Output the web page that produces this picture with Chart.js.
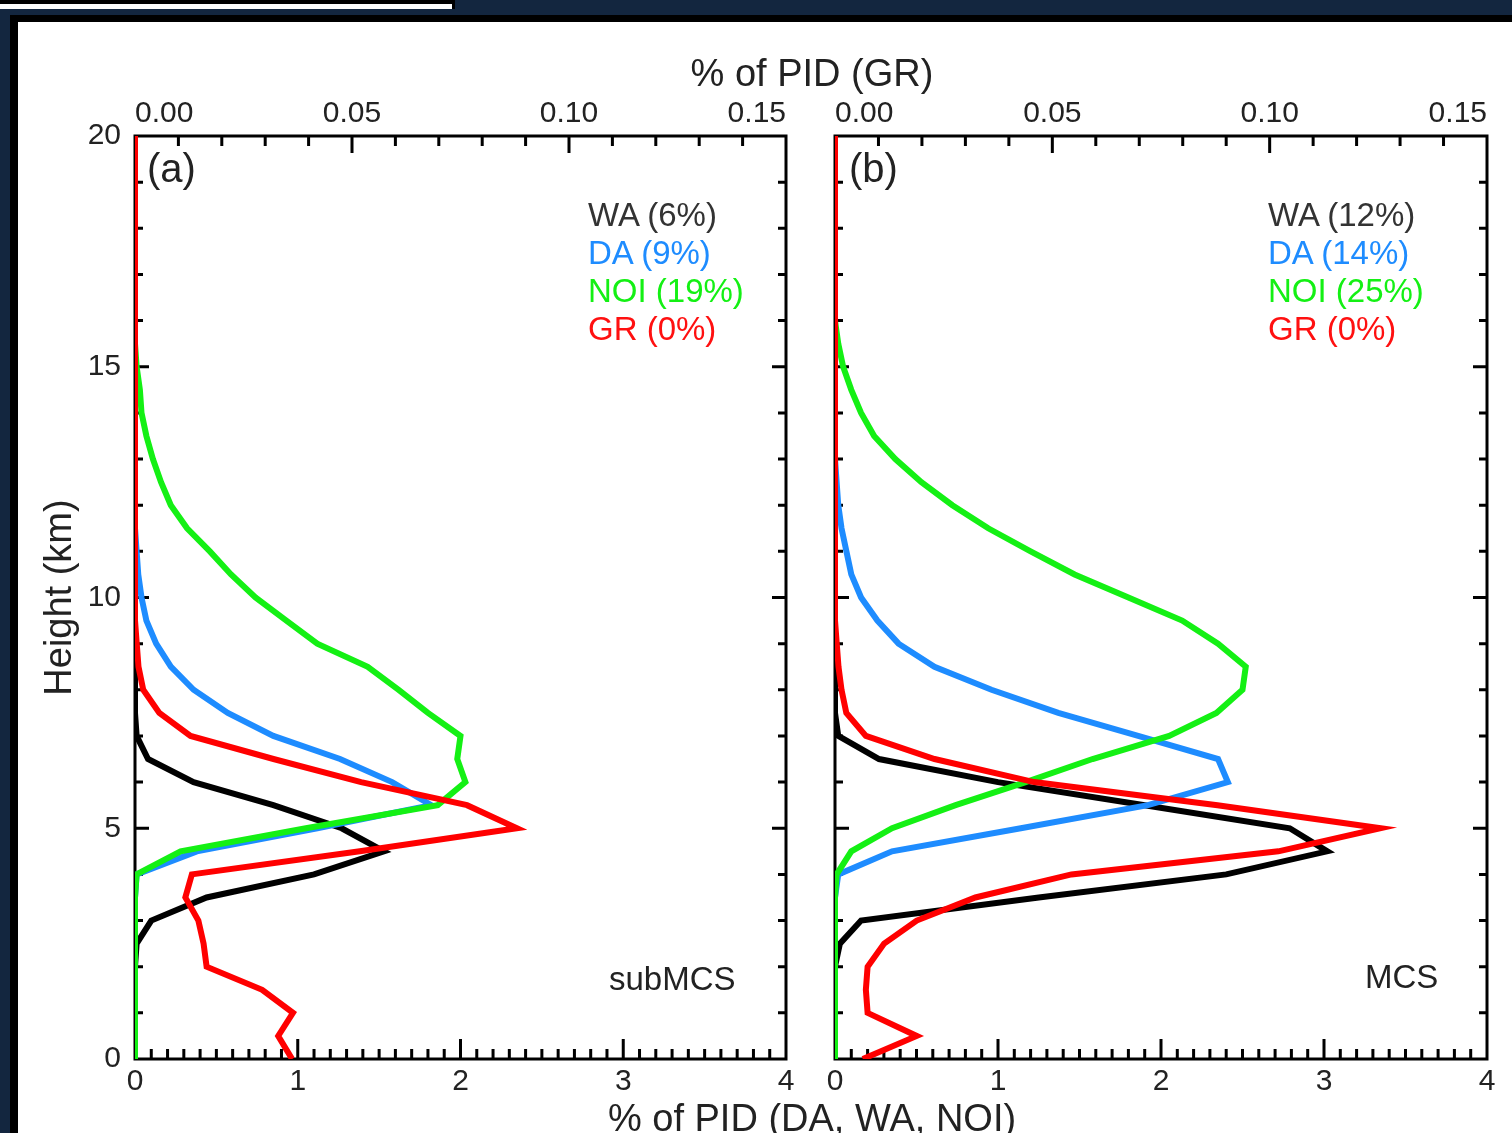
<!DOCTYPE html>
<html>
<head>
<meta charset="utf-8">
<script src="https://cdn.jsdelivr.net/npm/chart.js@4.4.1/dist/chart.umd.min.js"></script>
<style>
  html, body { margin: 0; padding: 0; }
  body {
    width: 1512px; height: 1133px; overflow: hidden; position: relative;
    background: #13263f;
    font-family: "Liberation Sans", Arial, sans-serif; color: #222;
  }
  #strip { position: absolute; left: 0; top: 0; width: 452px; height: 5px; background: #fff; border-top: 4px solid #000; border-right: 3px solid #000; }
  #sheet { position: absolute; left: 10px; top: 15px; right: 0; bottom: 0; background: #fff; border-left: 8px solid #000; border-top: 7px solid #000; }
  canvas { position: absolute; left: 0; top: 0; }
  .lbl { position: absolute; white-space: nowrap; }
  .title { font-size: 38px; line-height: 38px; width: 700px; left: 462px; text-align: center; }
  .leg { font-size: 33px; line-height: 33px; }
  .panel { font-size: 40px; line-height: 40px; }
</style>
</head>
<body>
<div id="strip"></div>
<div id="sheet"></div>
<canvas id="chartA" width="1512" height="1133"></canvas>
<canvas id="chartB" width="1512" height="1133"></canvas>

<div class="lbl title" style="top:54px">% of PID (GR)</div>
<div class="lbl title" style="top:1099px">% of PID (DA, WA, NOI)</div>

<div class="lbl panel" style="left:147px; top:148px">(a)</div>
<div class="lbl panel" style="left:849px; top:148px">(b)</div>

<div class="lbl leg" style="left:588px; top:198px; color:#333">WA (6%)</div>
<div class="lbl leg" style="left:588px; top:236px; color:#1e8cff">DA (9%)</div>
<div class="lbl leg" style="left:588px; top:274px; color:#14f014">NOI (19%)</div>
<div class="lbl leg" style="left:588px; top:312px; color:#ff1010">GR (0%)</div>

<div class="lbl leg" style="left:1268px; top:198px; color:#333">WA (12%)</div>
<div class="lbl leg" style="left:1268px; top:236px; color:#1e8cff">DA (14%)</div>
<div class="lbl leg" style="left:1268px; top:274px; color:#14f014">NOI (25%)</div>
<div class="lbl leg" style="left:1268px; top:312px; color:#ff1010">GR (0%)</div>

<div class="lbl leg" style="left:609px; top:962px">subMCS</div>
<div class="lbl leg" style="left:1365px; top:960px">MCS</div>

<script>
// ==========================
// DATA (height in km, values in % of PID)
// ==========================
const heights = [0, 0.5, 1, 1.5, 2, 2.5, 3, 3.5, 4, 4.5, 5, 5.5, 6, 6.5, 7, 7.5, 8, 8.5, 9, 9.5,
  10, 10.5, 11, 11.5, 12, 12.5, 13, 13.5, 14, 14.5, 15, 15.5, 16, 16.5, 17, 17.5, 18, 18.5, 19, 19.5, 20];

// (a) subMCS
const waA = [0, 0, 0, 0, 0, 0.01, 0.10, 0.44, 1.10, 1.53, 1.27, 0.85, 0.36, 0.08, 0.01, 0, 0, 0, 0, 0,
  0, 0, 0, 0, 0, 0, 0, 0, 0, 0, 0, 0, 0, 0, 0, 0, 0, 0, 0, 0, 0];
const daA = [0, 0, 0, 0, 0, 0, 0, 0, 0.01, 0.38, 1.12, 1.82, 1.58, 1.26, 0.85, 0.57, 0.36, 0.22, 0.13, 0.07,
  0.04, 0.02, 0.01, 0, 0, 0, 0, 0, 0, 0, 0, 0, 0, 0, 0, 0, 0, 0, 0, 0, 0];
const noiA = [0, 0, 0, 0, 0, 0, 0, 0, 0.01, 0.28, 1.05, 1.86, 2.03, 1.98, 2.00, 1.80, 1.62, 1.43, 1.12, 0.93,
  0.74, 0.59, 0.46, 0.32, 0.22, 0.16, 0.11, 0.07, 0.04, 0.03, 0.01, 0, 0, 0, 0, 0, 0, 0, 0, 0, 0];
const grA = [0.0362, 0.0330, 0.0364, 0.0293, 0.0165, 0.0158, 0.0146, 0.0116, 0.0131, 0.0518, 0.0880, 0.0765,
  0.0521, 0.0319, 0.0128, 0.0056, 0.0019, 0.0008, 0.0004, 0,
  0, 0, 0, 0, 0, 0, 0, 0, 0, 0, 0, 0, 0, 0, 0, 0, 0, 0, 0, 0, 0];

// (b) MCS
const waB = [0, 0, 0, 0, 0, 0.03, 0.16, 1.25, 2.40, 3.02, 2.79, 1.90, 1.00, 0.27, 0.02, 0, 0, 0, 0, 0,
  0, 0, 0, 0, 0, 0, 0, 0, 0, 0, 0, 0, 0, 0, 0, 0, 0, 0, 0, 0, 0];
const daB = [0, 0, 0, 0, 0, 0, 0, 0, 0.02, 0.35, 1.14, 1.92, 2.41, 2.35, 1.86, 1.37, 0.96, 0.61, 0.39, 0.26,
  0.16, 0.10, 0.07, 0.04, 0.02, 0.01, 0, 0, 0, 0, 0, 0, 0, 0, 0, 0, 0, 0, 0, 0, 0];
const noiB = [0, 0, 0, 0, 0, 0, 0, 0, 0.01, 0.10, 0.35, 0.74, 1.17, 1.58, 2.05, 2.34, 2.50, 2.52, 2.35, 2.13,
  1.80, 1.47, 1.20, 0.94, 0.72, 0.53, 0.37, 0.24, 0.16, 0.10, 0.05, 0.02, 0, 0, 0, 0, 0, 0, 0, 0, 0];
const grB = [0.0064, 0.0188, 0.0075, 0.0071, 0.0075, 0.0113, 0.0188, 0.0323, 0.0544, 0.1020, 0.1255, 0.0880,
  0.0458, 0.0229, 0.0071, 0.0026, 0.0015, 0.0008, 0.0004, 0,
  0, 0, 0, 0, 0, 0, 0, 0, 0, 0, 0, 0, 0, 0, 0, 0, 0, 0, 0, 0, 0];

const xTicks = [0, 1, 2, 3, 4];            // % of PID (DA, WA, NOI)
const grTicks = [0, 0.05, 0.10, 0.15];     // % of PID (GR)
const yTicks = [0, 5, 10, 15, 20];         // Height (km)

// ==========================
// STYLE
// ==========================
const COLORS = { wa: "#000000", da: "#1e8cff", noi: "#14f014", gr: "#ff0000" };
const TEXT = "#222";
const LINE_W = 6;
Chart.defaults.font.family = '"Liberation Sans", Arial, sans-serif';

function series(label, vals, color, axis) {
  return {
    label,
    data: vals.map((v, i) => ({ x: v, y: heights[i] })),
    borderColor: color,
    backgroundColor: color,
    borderWidth: LINE_W,
    pointRadius: 0,
    tension: 0,
    fill: false,
    xAxisID: axis,
    yAxisID: "y"
  };
}

// frame + inward ticks on all four sides
const frameTicks = {
  id: "frameTicks",
  beforeDatasetsDraw(chart) {
    const { ctx, chartArea: a, scales } = chart;
    ctx.save();
    ctx.strokeStyle = "#000";
    ctx.lineWidth = 3;
    ctx.strokeRect(a.left, a.top, a.right - a.left, a.bottom - a.top);
    ctx.beginPath();
    // top (GR) 0.01 steps
    for (let i = 1; i < 15; i++) {
      const x = scales.x2.getPixelForValue(i / 100);
      const len = i % 5 === 0 ? 17 : 10;
      ctx.moveTo(x, a.top);
      ctx.lineTo(x, a.top + len);
    }
    // bottom 0.1 steps
    for (let i = 1; i < 40; i++) {
      const x = scales.x.getPixelForValue(i / 10);
      const len = i % 10 === 0 ? 20 : 10;
      ctx.moveTo(x, a.bottom);
      ctx.lineTo(x, a.bottom - len);
    }
    // left + right, 1 km steps
    for (let i = 1; i < 20; i++) {
      const y = scales.y.getPixelForValue(i);
      const len = i % 5 === 0 ? 14 : 8;
      ctx.moveTo(a.left, y);
      ctx.lineTo(a.left + len, y);
      ctx.moveTo(a.right, y);
      ctx.lineTo(a.right - len, y);
    }
    ctx.stroke();
    ctx.restore();
  }
};

function makeChart(id, wa, da, noi, gr, yWidth, padRight, showY) {
  return new Chart(document.getElementById(id), {
    type: "line",
    data: {
      datasets: [
        series("GR", gr, COLORS.gr, "x2"),
        series("NOI", noi, COLORS.noi, "x"),
        series("DA", da, COLORS.da, "x"),
        series("WA", wa, COLORS.wa, "x")
      ]
    },
    options: {
      responsive: false,
      animation: false,
      devicePixelRatio: 1,
      layout: { padding: { left: 0, right: padRight, top: 0, bottom: 0 } },
      plugins: { legend: { display: false }, tooltip: { enabled: false } },
      scales: {
        x: {
          type: "linear", position: "bottom", min: 0, max: 4,
          afterBuildTicks: s => { s.ticks = xTicks.map(v => ({ value: v })); },
          ticks: { font: { size: 30 }, color: TEXT, padding: 5, maxRotation: 0 },
          grid: { display: false, drawTicks: false },
          border: { display: false },
          afterFit: s => { s.height = 74; s.paddingLeft = 0; s.paddingRight = 0; }
        },
        x2: {
          type: "linear", position: "top", min: 0, max: 0.15,
          afterBuildTicks: s => { s.ticks = grTicks.map(v => ({ value: v })); },
          ticks: { font: { size: 30 }, color: TEXT, padding: 4, maxRotation: 0, align: "inner",
                   callback: v => v.toFixed(2) },
          grid: { display: false, drawTicks: false },
          border: { display: false },
          afterFit: s => { s.height = 136; s.paddingLeft = 0; s.paddingRight = 0; }
        },
        y: {
          type: "linear", position: "left", min: 0, max: 20,
          afterBuildTicks: s => { s.ticks = yTicks.map(v => ({ value: v })); },
          ticks: { display: showY, font: { size: 30 }, color: TEXT, padding: 14 },
          title: { display: showY, text: "Height (km)", color: TEXT, font: { size: 38 }, padding: { top: 38, bottom: 0 } },
          grid: { display: false, drawTicks: false },
          border: { display: false },
          afterFit: s => { s.width = yWidth; s.paddingTop = 0; s.paddingBottom = 0; }
        }
      }
    },
    plugins: [frameTicks]
  });
}

// ==========================
// INIT
// ==========================
makeChart("chartA", waA, daA, noiA, grA, 135, 1512 - 786, true);
makeChart("chartB", waB, daB, noiB, grB, 835, 1512 - 1487, false);
</script>
</body>
</html>
